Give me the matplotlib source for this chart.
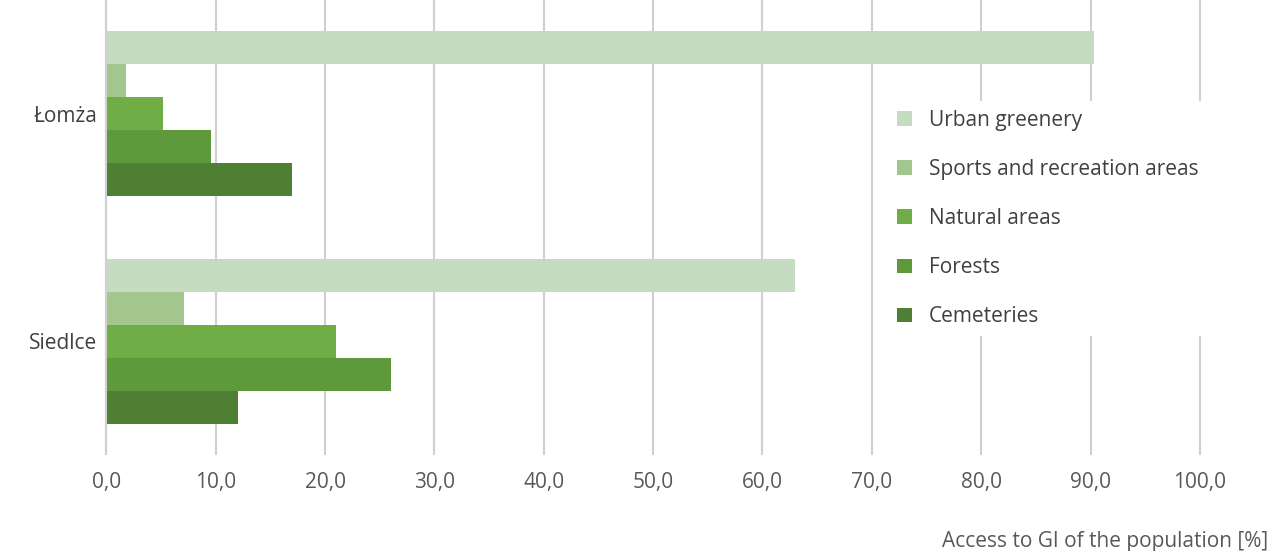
import numpy as np
import matplotlib.pyplot as plt

plt.rcParams["font.family"] = ["Open Sans", "DejaVu Sans"]

cities = ["Łomża", "Siedlce"]
series = ["Urban greenery", "Sports and recreation areas", "Natural areas", "Forests", "Cemeteries"]
values = {
    "Urban greenery": [90.3, 63.0],
    "Sports and recreation areas": [1.8, 7.1],
    "Natural areas": [5.2, 21.0],
    "Forests": [9.6, 26.0],
    "Cemeteries": [17.0, 12.0],
}
colors = ["#c5dcc0", "#a3c68f", "#70ad47", "#5e9a3c", "#4e7f32"]
ticks = np.arange(0, 101, 10)

fig = plt.figure(figsize=(12.8, 5.51), dpi=100)
ax = fig.add_axes([0.0805, 0.174, 0.8595, 0.826])

h = 0.145
y = np.arange(len(cities))
for i, (name, c) in enumerate(zip(series, colors)):
    ax.barh(y + (i - 2) * h, values[name], height=h, color=c, label=name, zorder=3)

ax.set_ylim(1.5, -0.5)
ax.set_xlim(-0.3, 100.3)
ax.set_yticks(y)
ax.set_yticklabels(cities, fontsize=15, color="#404040")
ax.set_xticks(ticks)
ax.set_xticklabels([f"{t:.1f}".replace(".", ",") for t in ticks], fontsize=15, color="#595959")
ax.tick_params(length=0, pad=12)
ax.tick_params(axis="y", pad=4)
ax.grid(axis="x", color="#d0d0d0", linewidth=1.5, zorder=0)
for s in ax.spines.values():
    s.set_visible(False)
ax.axvline(0, color="#d0d0d0", linewidth=1.5, zorder=4)

ax.text(1.059, -0.19, "Access to GI of the population [%]", transform=ax.transAxes,
        ha="right", va="center", fontsize=15, color="#595959")

leg = ax.legend(loc="center left", bbox_to_anchor=(0.705, 0.52), frameon=True, fontsize=15,
                labelcolor="#404040", handlelength=0.7, handleheight=0.7, labelspacing=1.35,
                edgecolor="none", facecolor="white", framealpha=1)
leg.set_zorder(5)

fig.savefig("out.png")
